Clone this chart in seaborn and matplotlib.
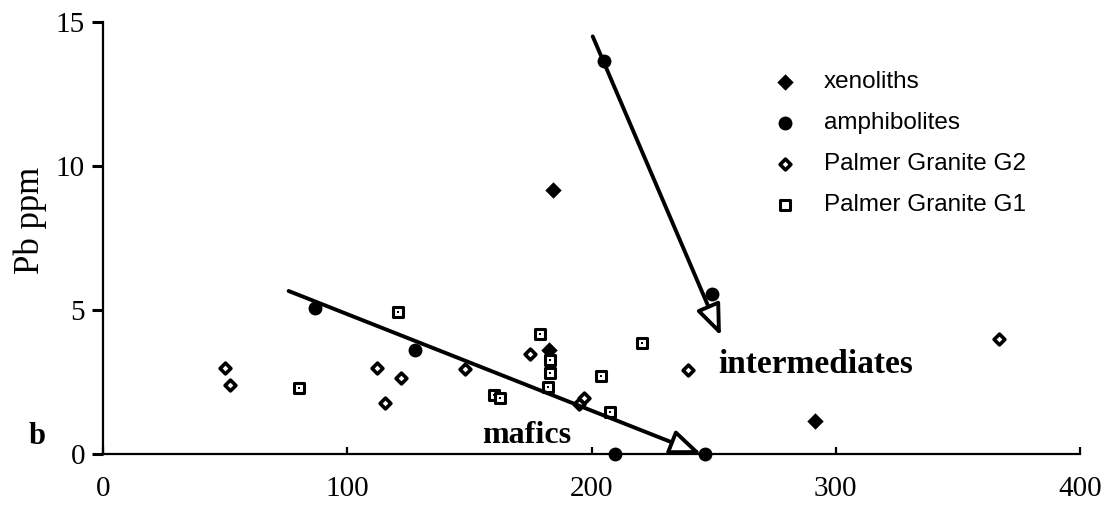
import matplotlib
matplotlib.use("Agg")
import matplotlib.pyplot as plt
import seaborn as sns
import pandas as pd

# Zr (x) against Pb ppm (y) for each rock group
xeno_x = [184.1, 291.5, 182.5]
xeno_y = [9.15, 1.13, 3.6]

amph_x = [86.9, 127.6, 205.0, 249.4, 209.8, 246.4]
amph_y = [5.08, 3.62, 13.63, 5.54, 0.0, 0.0]

g2_x = [50.0, 52.0, 112.1, 122.1, 115.3, 148.4, 174.7, 197.0, 195.0, 239.6, 366.7]
g2_y = [2.99, 2.40, 3.00, 2.64, 1.77, 2.95, 3.48, 1.95, 1.75, 2.93, 4.00]

g1_x = [80.3, 120.7, 160.0, 162.7, 178.8, 183.2, 183.2, 182.1, 203.8, 207.4, 220.5]
g1_y = [2.29, 4.94, 2.06, 1.94, 4.18, 3.28, 2.81, 2.32, 2.70, 1.45, 3.86]

series_names = ["xenoliths", "amphibolites", "Palmer Granite G2", "Palmer Granite G1"]

# trend arrows: (start, end) in data units
mafic_arrow = ((76.0, 5.66), (245.0, 0.0))
inter_arrow = ((200.5, 14.5), (253.0, 4.1))

x_ticks = [0, 100, 200, 300, 400]
y_ticks = [0, 5, 10, 15]

sns.set_style("ticks")
plt.rcParams["font.family"] = ["Liberation Serif", "DejaVu Serif"]
plt.rcParams.update({"text.color": "black", "axes.labelcolor": "black",
                     "xtick.color": "black", "ytick.color": "black"})

fig = plt.figure(figsize=(11.06, 5.05), dpi=100)
ax = fig.add_axes([103 / 1106, 1 - 454 / 505, 977 / 1106, 432 / 505])

xeno = pd.DataFrame({"x": xeno_x, "y": xeno_y})
amph = pd.DataFrame({"x": amph_x, "y": amph_y})
g2 = pd.DataFrame({"x": g2_x, "y": g2_y})
g1 = pd.DataFrame({"x": g1_x, "y": g1_y})

sns.scatterplot(data=xeno, x="x", y="y", ax=ax, marker="D", s=70, color="black",
                linewidth=0, label=series_names[0], clip_on=False, zorder=3)
sns.scatterplot(data=amph, x="x", y="y", ax=ax, marker="o", s=100, color="black",
                linewidth=0, label=series_names[1], clip_on=False, zorder=3)
sns.scatterplot(data=g2, x="x", y="y", ax=ax, marker="D", s=30, facecolor="white",
                edgecolor="black", linewidth=2.6, label=series_names[2],
                clip_on=False, zorder=3)
sns.scatterplot(data=g1, x="x", y="y", ax=ax, marker="s", s=42, facecolor="white",
                edgecolor="black", linewidth=2.2, label=series_names[3],
                clip_on=False, zorder=3)
# small dot in the centre of each G1 square
sns.scatterplot(data=g1, x="x", y="y", ax=ax, marker="s", s=3, color="black",
                linewidth=0, label="_nolegend_", clip_on=False, zorder=4)

for (x0, y0), (x1, y1) in (mafic_arrow, inter_arrow):
    ax.annotate("", xy=(x1, y1), xytext=(x0, y0),
                arrowprops=dict(arrowstyle="-|>,head_length=0.95,head_width=0.38",
                                mutation_scale=20, lw=2.8, fc="white", ec="black",
                                shrinkA=0, shrinkB=0),
                zorder=5)

ax.text(173.6, 0.65, "mafics", ha="center", va="center", fontsize=23,
        fontweight="bold")
ax.text(291.9, 3.1, "intermediates", ha="center", va="center", fontsize=24,
        fontweight="bold")

ax.set_xlim(0, 400)
ax.set_ylim(0, 15)
ax.set_xticks(x_ticks)
ax.set_yticks(y_ticks)
ax.set_xlabel("")
ax.set_ylabel("Pb ppm", fontsize=25)
ax.yaxis.set_label_coords(-0.057, 0.54)

for side in ("top", "right"):
    ax.spines[side].set_visible(False)
for side in ("left", "bottom"):
    ax.spines[side].set_linewidth(1.6)
    ax.spines[side].set_color("black")

ax.tick_params(axis="x", direction="in", length=5, width=1.6, pad=16,
               labelsize=21, colors="black")
ax.tick_params(axis="y", direction="out", length=8, width=2.2, pad=5,
               labelsize=21, colors="black")

fig.text(37 / 1106, 1 - 437 / 505, "b", ha="center", va="center", fontsize=22,
         fontweight="bold")

leg = ax.legend(loc="upper left", bbox_to_anchor=(0.686, 0.886), frameon=False,
                borderpad=0, borderaxespad=0, handlelength=1.0,
                handletextpad=1.07, labelspacing=0.78,
                prop={"family": "Liberation Sans", "size": 17.5})
for t in leg.get_texts():
    t.set_color("black")

fig.savefig("out.png", dpi=100, facecolor="white")
